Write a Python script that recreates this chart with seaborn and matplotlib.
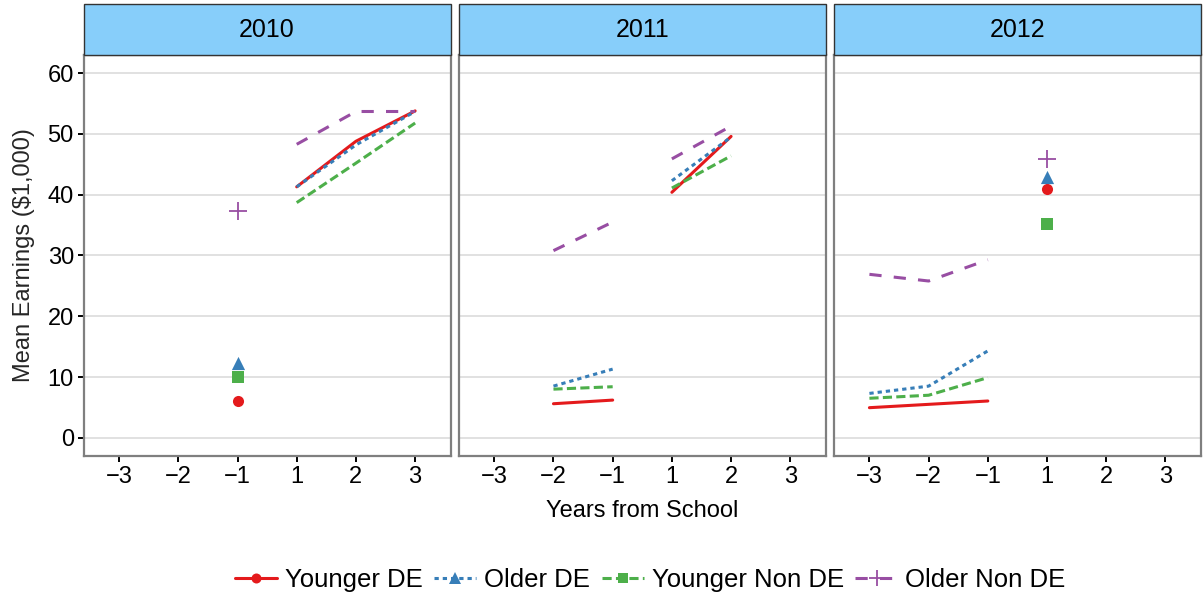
import numpy as np
import pandas as pd
import matplotlib
matplotlib.use("Agg")
import matplotlib.pyplot as plt
from matplotlib.patches import Rectangle
from matplotlib.lines import Line2D
import seaborn as sns

# Years relative to leaving school (categorical axis order)
periods = [-3, -2, -1, 1, 2, 3]
period_labels = ["\u22123", "\u22122", "\u22121", "1", "2", "3"]
cohorts = [2010, 2011, 2012]
groups = ["Younger DE", "Older DE", "Younger Non DE", "Older Non DE"]

nan = np.nan
# Mean earnings ($1,000) by cohort, one value per period
younger_de = {
    2010: [nan, nan, 6.0, 41.3, 48.8, 53.8],
    2011: [nan, 5.6, 6.2, 40.4, 49.6, nan],
    2012: [4.95, 5.5, 6.05, 41.0, nan, nan],
}
older_de = {
    2010: [nan, nan, 12.3, 41.3, 48.2, 53.7],
    2011: [nan, 8.5, 11.3, 42.3, 49.5, nan],
    2012: [7.3, 8.5, 14.3, 42.9, nan, nan],
}
younger_non_de = {
    2010: [nan, nan, 10.0, 38.7, 45.2, 51.8],
    2011: [nan, 8.0, 8.4, 41.1, 46.4, nan],
    2012: [6.5, 7.0, 9.9, 35.2, nan, nan],
}
older_non_de = {
    2010: [nan, nan, 37.3, 48.3, 53.7, 53.7],
    2011: [nan, 30.8, 35.5, 45.9, 51.3, nan],
    2012: [26.9, 25.8, 29.3, 45.9, nan, nan],
}
series_values = dict(zip(groups, [younger_de, older_de, younger_non_de, older_non_de]))

palette = {"Younger DE": "#E41A1C", "Older DE": "#377EB8",
           "Younger Non DE": "#4DAF4A", "Older Non DE": "#984EA3"}
dash_map = {"Younger DE": "", "Older DE": (1.4, 1.3),
            "Younger Non DE": (3.0, 1.4), "Older Non DE": (4.0, 4.0)}
marker_map = {"Younger DE": "o", "Older DE": "^",
              "Younger Non DE": "s", "Older Non DE": "+"}
marker_size = {"Younger DE": 8.0, "Older DE": 9.5,
               "Younger Non DE": 8.0, "Older Non DE": 12.5}

# Long table: one row per observed value, split into pre/post school segments
rows = []
for cohort in cohorts:
    for g in groups:
        for i, (p, v) in enumerate(zip(periods, series_values[g][cohort])):
            if np.isnan(v):
                continue
            rows.append(dict(cohort=cohort, group=g, pos=i, period=p,
                             segment="pre" if p < 0 else "post", value=v))
df = pd.DataFrame(rows)
df["unit"] = df["group"] + "|" + df["segment"]
df["n"] = df.groupby(["cohort", "group", "segment"])["value"].transform("size")

sns.set_theme(style="white")
plt.rcParams["font.family"] = ["Liberation Sans", "DejaVu Sans"]
plt.rcParams["text.color"] = "black"

fig, axes = plt.subplots(1, 3, figsize=(12.04, 6.03), dpi=100, sharey=True)
fig.subplots_adjust(left=0.0694, right=0.9975, bottom=0.2438, top=0.9088,
                    wspace=0.022)

grid_col = "#D9D9D9"
for ax, cohort in zip(axes, cohorts):
    sub = df[df["cohort"] == cohort]
    lines = sub[sub["n"] > 1]
    pts = sub[sub["n"] == 1]

    for y in range(0, 61, 10):
        ax.axhline(y, color=grid_col, lw=1.1, zorder=0)

    sns.lineplot(data=lines, x="pos", y="value", hue="group", style="group",
                 units="unit", estimator=None, palette=palette,
                 dashes=dash_map, hue_order=groups, style_order=groups,
                 linewidth=2.2, legend=False, ax=ax, zorder=3)
    for g in groups:
        gp = pts[pts["group"] == g]
        if gp.empty:
            continue
        m = marker_map[g]
        kw = dict(linewidth=1.3) if m == "+" else dict(linewidth=0)
        sns.scatterplot(data=gp, x="pos", y="value", color=palette[g],
                        marker=m, s=marker_size[g] ** 2, ax=ax, zorder=4,
                        legend=False, **kw)

    ax.set_xlim(-0.6, len(periods) - 0.4)
    ax.set_ylim(-3, 63)
    ax.set_xticks(range(len(periods)))
    ax.set_xticklabels(period_labels)
    ax.set_yticks(range(0, 61, 10))
    ax.set_xlabel("")
    ax.set_ylabel("")
    ax.tick_params(axis="both", which="major", length=4, width=1.4,
                   color="black", labelsize=17, labelcolor="black", pad=3,
                   bottom=True, left=True)
    for sp in ax.spines.values():
        sp.set_color("#7F7F7F")
        sp.set_linewidth(1.6)
        sp.set_visible(True)

    # Facet strip
    ax.add_patch(Rectangle((0, 1.0), 1, 0.127, transform=ax.transAxes,
                           facecolor="#87CEFA", edgecolor="#333333",
                           linewidth=1.0, clip_on=False, zorder=5))
    ax.text(0.5, 1.0635, str(cohort), transform=ax.transAxes, ha="center",
            va="center", fontsize=18, color="black", zorder=6)

for ax in axes[1:]:
    ax.tick_params(axis="y", left=False, labelleft=False)

axes[0].set_ylabel("Mean Earnings (\\$1,000)", fontsize=17, labelpad=9)
fig.text(0.533, 0.153, "Years from School", ha="center", va="center",
         fontsize=17)

handles = [Line2D([0], [0], color=palette[g], lw=2.2,
                  dashes=dash_map[g] if dash_map[g] else (None, None),
                  marker=marker_map[g], markersize=marker_size[g] * 0.9,
                  markeredgewidth=1.3 if marker_map[g] == "+" else 0)
           for g in groups]
fig.legend(handles, groups, loc="center", bbox_to_anchor=(0.54, 0.038),
           ncol=4, frameon=False, fontsize=18.5, handlelength=1.65,
           handletextpad=0.3, columnspacing=0.45)

fig.savefig("out.png", dpi=100)
